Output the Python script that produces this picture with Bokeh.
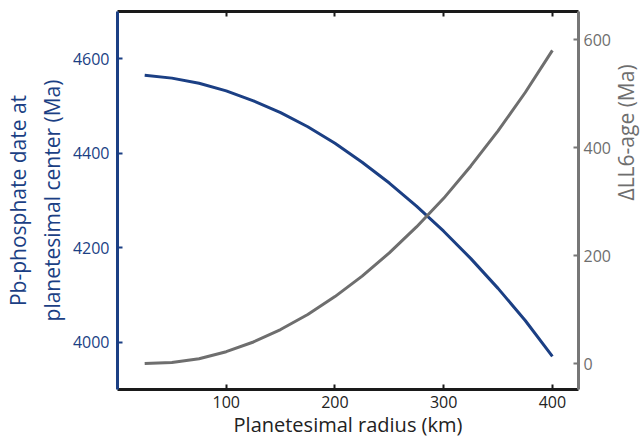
import math
from bokeh.plotting import figure
from bokeh.models import Range1d, LinearAxis, FixedTicker
from bokeh.embed import file_html
from bokeh.resources import INLINE

# Data
radius_km = [25, 50, 75, 100, 125, 150, 175, 200, 225, 250, 275, 300, 325, 350, 375, 400]
pb_date_ma = [4565, 4559, 4548, 4532, 4511, 4486, 4456, 4421, 4381, 4337, 4288, 4235, 4177, 4114, 4046, 3970]
delta_ll6_ma = [0, 2, 9, 22, 40, 63, 91, 124, 162, 205, 253, 306, 366, 431, 502, 580]

x_ticks = [100, 200, 300, 400]
left_ticks = [4000, 4200, 4400, 4600]
right_ticks = [0, 200, 400, 600]

BLUE = "#1b3f84"
GREY = "#6e6e6e"
AXGREY = "#777777"
FONT = "Open Sans"

p = figure(frame_width=461, frame_height=378,
           x_range=Range1d(0, 424), y_range=Range1d(3900, 4700),
           output_backend="svg", toolbar_location=None,
           min_border_left=117, min_border_right=60,
           min_border_top=11, min_border_bottom=46)
p.extra_y_ranges = {"right": Range1d(-48, 652)}
p.outline_line_color = None
p.xgrid.visible = False
p.ygrid.visible = False
p.background_fill_color = "white"
p.border_fill_color = "white"

# Lines
p.line(radius_km, pb_date_ma, line_color=BLUE, line_width=3)
p.line(radius_km, delta_ll6_ma, line_color=GREY, line_width=3, y_range_name="right")

def style_axis(ax, color, label_color):
    ax.axis_line_color = color
    ax.axis_line_width = 3
    ax.major_tick_line_color = color
    ax.major_tick_line_width = 2
    ax.major_tick_in = 5
    ax.major_tick_out = 0
    ax.minor_tick_line_color = None
    ax.major_label_text_font = FONT
    ax.major_label_text_font_size = "16px"
    ax.major_label_text_color = label_color
    ax.axis_label_text_font = FONT
    ax.axis_label_text_font_size = "21px"
    ax.axis_label_text_font_style = "normal"
    ax.axis_label_text_color = label_color

# Bottom axis
xa = p.xaxis[0]
style_axis(xa, "#1a1a1a", "#222222")
xa.ticker = FixedTicker(ticks=x_ticks)
xa.axis_label = "Planetesimal radius (km)"
xa.axis_label_text_font_size = "20px"
xa.major_label_standoff = 6
xa.axis_label_standoff = 0

# Left axis
ya = p.yaxis[0]
style_axis(ya, BLUE, BLUE)
ya.ticker = FixedTicker(ticks=left_ticks)
ya.axis_label = "Pb-phosphate date at\nplanetesimal center (Ma)"
ya.major_label_standoff = 8
ya.axis_label_standoff = 4

# Right axis
ra = LinearAxis(y_range_name="right")
style_axis(ra, AXGREY, GREY)
ra.ticker = FixedTicker(ticks=right_ticks)
ra.axis_label = "\u0394LL6-age (Ma)"
ra.major_label_standoff = 5
ra.axis_label_standoff = 12
if "axis_label_orientation" in LinearAxis.properties():
    ra.axis_label_orientation = math.pi / 2
p.add_layout(ra, "right")

# Top axis (ticks only)
ta = LinearAxis()
style_axis(ta, "#1a1a1a", "#222222")
ta.ticker = FixedTicker(ticks=x_ticks)
ta.major_label_overrides = {t: "" for t in x_ticks}
ta.major_label_standoff = 0
ta.axis_label = None
p.add_layout(ta, "above")

open("out.html", "w").write(file_html(p, INLINE))
